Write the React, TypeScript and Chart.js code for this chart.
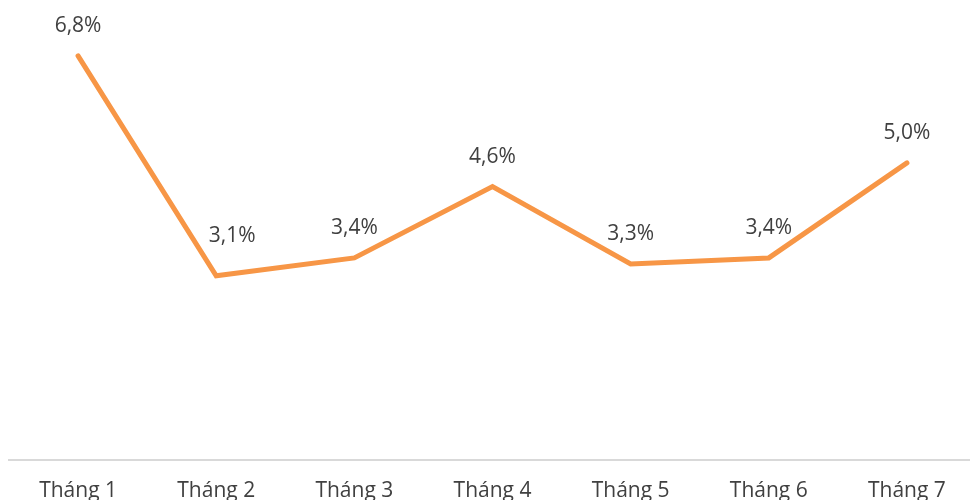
import React, { useEffect, useRef } from "react";
import { Chart, registerables } from "chart.js";

Chart.register(...registerables);

const categories = ["Tháng 1", "Tháng 2", "Tháng 3", "Tháng 4", "Tháng 5", "Tháng 6", "Tháng 7"];
const values = [6.8, 3.1, 3.4, 4.6, 3.3, 3.4, 5.0];
const valueLabels = ["6,8%", "3,1%", "3,4%", "4,6%", "3,3%", "3,4%", "5,0%"];

const FONT = "'Open Sans', 'Noto Sans', sans-serif";
const TEXT = "#404040";
const LINE = "#F79646";

const dataLabelPlugin = {
  id: "dataLabels",
  afterDatasetsDraw(chart: any) {
    const meta = chart.getDatasetMeta(0);
    const ctx = chart.ctx;
    ctx.save();
    ctx.font = `21px ${FONT}`;
    ctx.fillStyle = TEXT;
    ctx.textAlign = "center";
    ctx.textBaseline = "middle";
    meta.data.forEach((pt: any, i: number) => {
      const prev = i > 0 ? values[i - 1] : values[i];
      // a steep incoming drop would collide with the label: nudge it aside
      const steep = prev - values[i] > 2;
      const dx = steep ? 16 : 0;
      const dy = steep ? -40 : -30;
      ctx.fillText(valueLabels[i], pt.x + dx, pt.y + dy);
    });
    ctx.restore();
  },
};

export default function App() {
  const ref = useRef<HTMLCanvasElement>(null);
  useEffect(() => {
    if (!ref.current) return;
    const chart = new Chart(ref.current, {
      type: "line",
      data: {
        labels: categories,
        datasets: [
          {
            data: values,
            borderColor: LINE,
            borderWidth: 5,
            pointRadius: 0,
            pointHoverRadius: 0,
            tension: 0,
            borderCapStyle: "round",
            borderJoinStyle: "miter",
            fill: false,
          },
        ],
      },
      options: {
        responsive: false,
        maintainAspectRatio: false,
        animation: false,
        layout: { padding: { left: 9, right: 0, top: 0, bottom: 0 } },
        plugins: { legend: { display: false }, tooltip: { enabled: false } },
        scales: {
          x: {
            offset: true,
            grid: { display: false, drawTicks: false },
            border: { display: true, color: "#D9D9D9", width: 2 },
            ticks: { color: TEXT, font: { family: FONT, size: 21 }, padding: 18 },
            afterFit: (scale: any) => {
              scale.height = 40;
            },
          },
          y: { display: false, min: 0, max: 7.74 },
        },
      },
      plugins: [dataLabelPlugin],
    });
    return () => chart.destroy();
  }, []);
  return (
    <div style={{ position: "fixed", left: 0, top: 0, width: 970, height: 500, overflow: "hidden", background: "#fff" }}>
      <canvas ref={ref} width={976} height={500} style={{ display: "block", width: 976, height: 500 }} />
    </div>
  );
}
